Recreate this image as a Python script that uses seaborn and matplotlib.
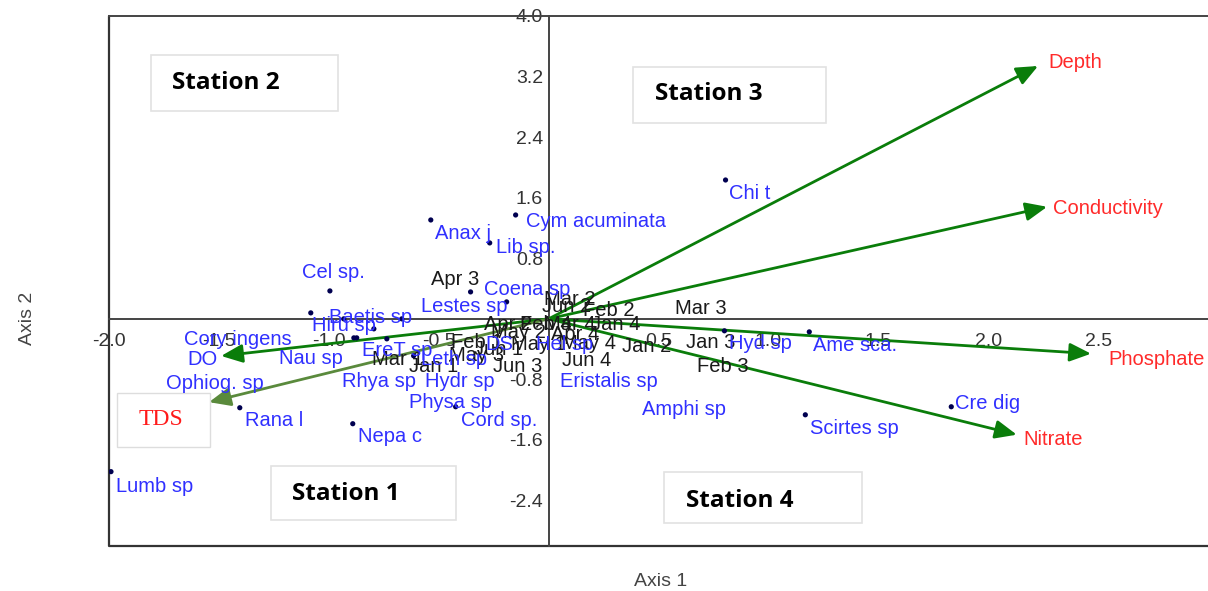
import matplotlib
matplotlib.use("Agg")
import matplotlib.pyplot as plt
from matplotlib.patches import Rectangle
import seaborn as sns
import pandas as pd

# species scores (dots)
dot_x = [0.805, -0.150, -0.536, -0.268, -0.995, -0.355, -0.191, -1.082, -0.932,
         -0.795, -0.886, -0.873, -0.736, -0.614, -0.423, -1.405, -0.891, -1.991,
         0.800, 1.186, 1.168, 1.832, -0.668]
dot_y = [1.834, 1.372, 1.306, 1.003, 0.369, 0.356, 0.224, 0.079, 0.0,
         -0.132, -0.251, -0.251, -0.264, -0.488, -1.161, -1.174, -1.385, -2.018,
         -0.158, -0.172, -1.267, -1.161, 0.0]

# species labels
species = ["Chi t", "Cym acuminata", "Anax j", "Lib sp.", "Cel sp.", "Coena sp",
           "Lestes sp", "Baetis sp", "Hiru sp", "Cory ingens", "DO", "Nau sp",
           "EreT sp", "Leth sp", "DS", "Hel sp", "Rhya sp", "Hydr sp",
           "Eristalis sp", "Physa sp", "Cord sp.", "Ophiog. sp", "Rana l",
           "Nepa c", "Lumb sp", "Hyd sp", "Ame sca.", "Amphi sp", "Scirtes sp",
           "Cre dig"]
species_x = [0.823, -0.105, -0.518, -0.241, -1.123, -0.295, -0.582, -1.0, -1.077,
             -1.659, -1.645, -1.227, -0.850, -0.582, -0.286, -0.059, -0.941, -0.564,
             0.050, -0.636, -0.4, -1.741, -1.382, -0.868, -1.968, 0.823, 1.205,
             0.423, 1.191, 1.850]
species_y = [1.662, 1.280, 1.121, 0.937, 0.607, 0.383, 0.158, 0.013, -0.092,
             -0.277, -0.541, -0.528, -0.422, -0.541, -0.343, -0.343, -0.831, -0.831,
             -0.831, -1.108, -1.346, -0.858, -1.346, -1.557, -2.216, -0.330, -0.356,
             -1.201, -1.451, -1.121]

# sample labels
samples = ["Apr 3", "Mar 2", "Jun 2", "Feb 2", "Mar 3", "Jan 4", "Apr 2", "Feb 4",
           "Mar 4", "May 2", "Apr 4", "Feb 1", "May 1", "May 4", "Jan 2", "Jan 3",
           "Feb 3", "Jun 4", "Jun 3", "Mar 1", "Jan 1", "May 3", "Jun 1"]
sample_x = [-0.536, -0.023, -0.032, 0.155, 0.573, 0.195, -0.295, -0.132,
            -0.023, -0.264, 0.009, -0.445, -0.173, 0.055, 0.332, 0.623,
            0.677, 0.059, -0.255, -0.805, -0.636, -0.455, -0.341]
sample_y = [0.515, 0.251, 0.158, 0.106, 0.132, -0.079, -0.079, -0.079,
            -0.079, -0.185, -0.211, -0.317, -0.343, -0.330, -0.369, -0.317,
            -0.633, -0.554, -0.633, -0.541, -0.633, -0.488, -0.409]

# environmental arrows
env_tip_x = [2.227, 2.268, 2.468, 2.13, -1.49, -1.545]
env_tip_y = [3.34, 1.48, -0.46, -1.53, -0.49, -1.10]
env_colors = ["#0a7d0a", "#0a7d0a", "#0a7d0a", "#0a7d0a", "#0a7d0a", "#5a8a3c"]
env_names = ["Depth", "Conductivity", "Phosphate", "Nitrate"]
env_label_x = [2.273, 2.295, 2.545, 2.159]
env_label_y = [3.391, 1.451, -0.541, -1.596]

stations = ["Station 2", "Station 3", "Station 1", "Station 4"]
station_box = [(-1.809, 2.744, 0.850, 0.739), (0.386, 2.586, 0.878, 0.739),
               (-1.264, -2.652, 0.841, 0.713), (0.527, -2.691, 0.900, 0.673)]
station_text = [(-1.714, 3.113), (0.482, 2.968), (-1.168, -2.309), (0.627, -2.401)]

xticks = [-2.0, -1.5, -1.0, -0.5, 0.5, 1.0, 1.5, 2.0, 2.5]
yticks = [-2.4, -1.6, -0.8, 0.8, 1.6, 2.4, 3.2, 4.0]

sns.set_style("white")
plt.rcParams["font.family"] = ["Liberation Sans", "DejaVu Sans"]

fig = plt.figure(figsize=(12.08, 5.91), dpi=100)
ax = fig.add_axes([109 / 1208, 1 - 546 / 591, 1 - 109 / 1208, (546 - 16) / 591])
ax.set_xlim(-2.0, 3.0)
ax.set_ylim(-3.0, 4.0)

# frame and zero axes
for side in ["left", "bottom"]:
    ax.spines[side].set_position(("data", 0))
    ax.spines[side].set_color("#444444")
    ax.spines[side].set_linewidth(1.4)
ax.spines["right"].set_visible(False)
ax.spines["top"].set_color("#444444")
ax.spines["top"].set_linewidth(1.4)
ax.plot([0, 0, 1], [1, 0, 0], transform=ax.transAxes, color="#333333", lw=1.6, clip_on=False)

ax.set_xticks(xticks)
ax.set_yticks(yticks)
ax.set_xticklabels([f"{t:.1f}" for t in xticks])
ax.set_yticklabels([f"{t:.1f}" for t in yticks])
ax.tick_params(axis="both", direction="out", length=4, width=1, colors="#444444",
               labelsize=14, labelcolor="#333333")
ax.tick_params(axis="x", pad=6)
ax.tick_params(axis="y", pad=0)

# arrows
for tx, ty, c in zip(env_tip_x, env_tip_y, env_colors):
    ax.annotate("", xy=(tx, ty), xytext=(0, 0),
                arrowprops=dict(arrowstyle="-|>,head_length=0.65,head_width=0.28",
                                color=c, lw=2, mutation_scale=20, shrinkA=0, shrinkB=0),
                zorder=3)

# dots
dots = pd.DataFrame({"x": dot_x, "y": dot_y})
sns.scatterplot(data=dots, x="x", y="y", ax=ax, s=14, color="#000050",
                edgecolor="none", zorder=4, legend=False)

for name, x, y in zip(samples, sample_x, sample_y):
    ax.text(x, y, name, color="#1a1a1a", fontsize=14.5, ha="left", va="center", zorder=5)
for name, x, y in zip(species, species_x, species_y):
    ax.text(x, y, name, color="#3030ff", fontsize=14.5, ha="left", va="center", zorder=6)
for name, x, y in zip(env_names, env_label_x, env_label_y):
    ax.text(x, y, name, color="#ff2a2a", fontsize=14.5, ha="left", va="center", zorder=6)

# TDS box
ax.add_patch(Rectangle((-1.964, -1.689), 0.423, 0.713, facecolor="white",
                       edgecolor="#dddddd", lw=1, zorder=5))
ax.text(-1.864, -1.332, "TDS", color="#ff1a1a", fontsize=17, family="Liberation Serif",
        ha="left", va="center", zorder=6)

# station boxes
for (bx, by, bw, bh), (tx, ty), name in zip(station_box, station_text, stations):
    ax.add_patch(Rectangle((bx, by), bw, bh, facecolor="white", edgecolor="#e2e2e2",
                           lw=1.2, zorder=5))
    ax.text(tx, ty, name, color="black", fontsize=17.5, fontweight="bold",
            family=["Open Sans", "DejaVu Sans"], ha="left", va="center", zorder=6)

ax.set_xlabel("")
ax.set_ylabel("")
fig.text(661 / 1208, 1 - 582 / 591, "Axis 1", ha="center", va="center",
         fontsize=14, color="#444444")
fig.text(27 / 1208, 1 - 318 / 591, "Axis 2", ha="center", va="center",
         fontsize=14, color="#444444", rotation=90)

fig.savefig("out.png", dpi=100)
